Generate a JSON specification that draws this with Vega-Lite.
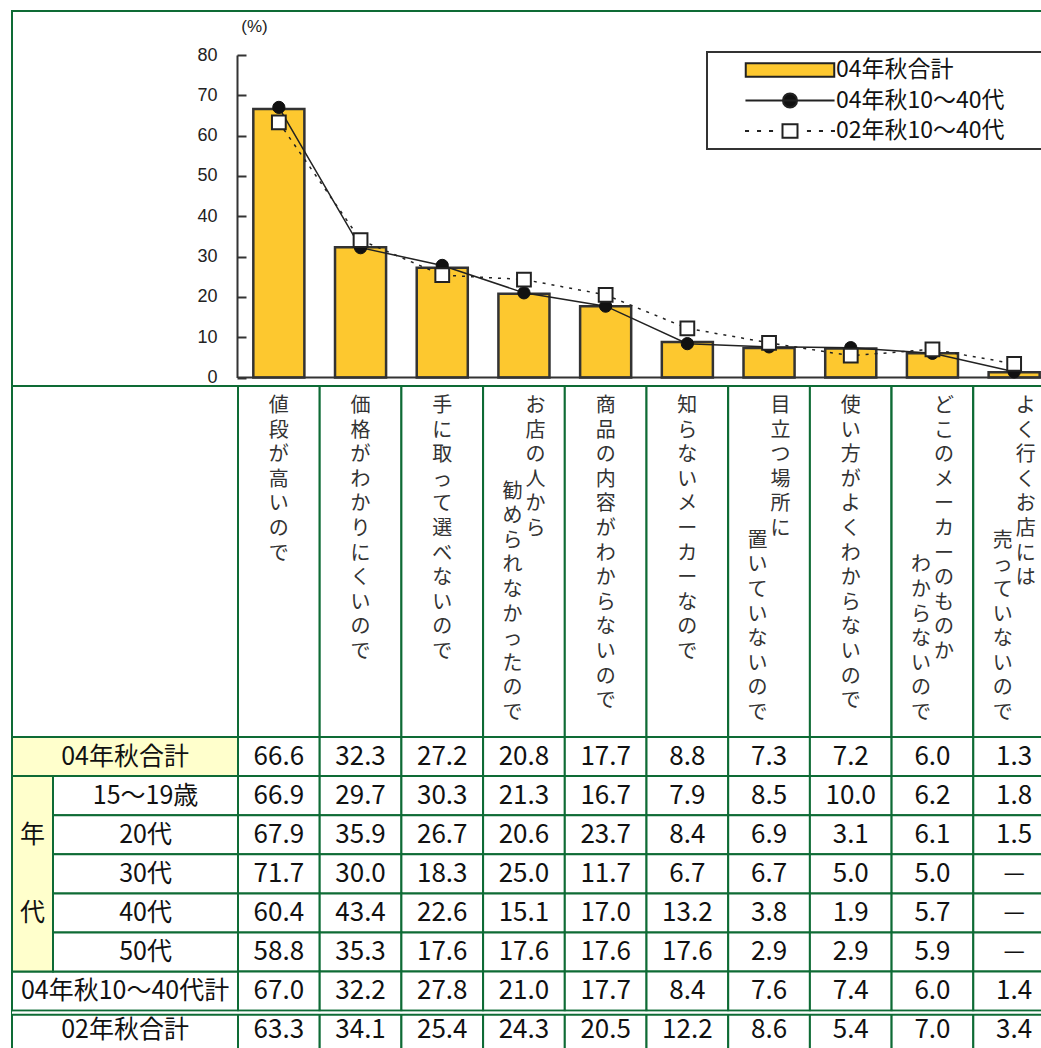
{
  "$schema": "https://vega.github.io/schema/vega-lite/v6.json",
  "padding": {"left": 10, "top": 10, "right": 0, "bottom": 0},
  "spacing": 0,
  "bounds": "flush",
  "config": {"font": "Noto Sans CJK JP", "view": {"stroke": null}, "legend": {"strokeWidth": 2}},
  "resolve": {"scale": {"x": "independent", "y": "independent", "fill": "independent"}},
  "datasets": {
    "tbl": [
      {"row": "04年秋合計", "cat": "値段が高いので", "v": 66.6},
      {"row": "04年秋合計", "cat": "価格がわかりにくいので", "v": 32.3},
      {"row": "04年秋合計", "cat": "手に取って選べないので", "v": 27.2},
      {"row": "04年秋合計", "cat": "お店の人から勧められなかったので", "v": 20.8},
      {"row": "04年秋合計", "cat": "商品の内容がわからないので", "v": 17.7},
      {"row": "04年秋合計", "cat": "知らないメーカーなので", "v": 8.8},
      {"row": "04年秋合計", "cat": "目立つ場所に置いていないので", "v": 7.3},
      {"row": "04年秋合計", "cat": "使い方がよくわからないので", "v": 7.2},
      {"row": "04年秋合計", "cat": "どこのメーカーのものかわからないので", "v": 6.0},
      {"row": "04年秋合計", "cat": "よく行くお店には売っていないので", "v": 1.3},
      {"row": "15〜19歳", "cat": "値段が高いので", "v": 66.9},
      {"row": "15〜19歳", "cat": "価格がわかりにくいので", "v": 29.7},
      {"row": "15〜19歳", "cat": "手に取って選べないので", "v": 30.3},
      {"row": "15〜19歳", "cat": "お店の人から勧められなかったので", "v": 21.3},
      {"row": "15〜19歳", "cat": "商品の内容がわからないので", "v": 16.7},
      {"row": "15〜19歳", "cat": "知らないメーカーなので", "v": 7.9},
      {"row": "15〜19歳", "cat": "目立つ場所に置いていないので", "v": 8.5},
      {"row": "15〜19歳", "cat": "使い方がよくわからないので", "v": 10.0},
      {"row": "15〜19歳", "cat": "どこのメーカーのものかわからないので", "v": 6.2},
      {"row": "15〜19歳", "cat": "よく行くお店には売っていないので", "v": 1.8},
      {"row": "20代", "cat": "値段が高いので", "v": 67.9},
      {"row": "20代", "cat": "価格がわかりにくいので", "v": 35.9},
      {"row": "20代", "cat": "手に取って選べないので", "v": 26.7},
      {"row": "20代", "cat": "お店の人から勧められなかったので", "v": 20.6},
      {"row": "20代", "cat": "商品の内容がわからないので", "v": 23.7},
      {"row": "20代", "cat": "知らないメーカーなので", "v": 8.4},
      {"row": "20代", "cat": "目立つ場所に置いていないので", "v": 6.9},
      {"row": "20代", "cat": "使い方がよくわからないので", "v": 3.1},
      {"row": "20代", "cat": "どこのメーカーのものかわからないので", "v": 6.1},
      {"row": "20代", "cat": "よく行くお店には売っていないので", "v": 1.5},
      {"row": "30代", "cat": "値段が高いので", "v": 71.7},
      {"row": "30代", "cat": "価格がわかりにくいので", "v": 30.0},
      {"row": "30代", "cat": "手に取って選べないので", "v": 18.3},
      {"row": "30代", "cat": "お店の人から勧められなかったので", "v": 25.0},
      {"row": "30代", "cat": "商品の内容がわからないので", "v": 11.7},
      {"row": "30代", "cat": "知らないメーカーなので", "v": 6.7},
      {"row": "30代", "cat": "目立つ場所に置いていないので", "v": 6.7},
      {"row": "30代", "cat": "使い方がよくわからないので", "v": 5.0},
      {"row": "30代", "cat": "どこのメーカーのものかわからないので", "v": 5.0},
      {"row": "30代", "cat": "よく行くお店には売っていないので", "v": null},
      {"row": "40代", "cat": "値段が高いので", "v": 60.4},
      {"row": "40代", "cat": "価格がわかりにくいので", "v": 43.4},
      {"row": "40代", "cat": "手に取って選べないので", "v": 22.6},
      {"row": "40代", "cat": "お店の人から勧められなかったので", "v": 15.1},
      {"row": "40代", "cat": "商品の内容がわからないので", "v": 17.0},
      {"row": "40代", "cat": "知らないメーカーなので", "v": 13.2},
      {"row": "40代", "cat": "目立つ場所に置いていないので", "v": 3.8},
      {"row": "40代", "cat": "使い方がよくわからないので", "v": 1.9},
      {"row": "40代", "cat": "どこのメーカーのものかわからないので", "v": 5.7},
      {"row": "40代", "cat": "よく行くお店には売っていないので", "v": null},
      {"row": "50代", "cat": "値段が高いので", "v": 58.8},
      {"row": "50代", "cat": "価格がわかりにくいので", "v": 35.3},
      {"row": "50代", "cat": "手に取って選べないので", "v": 17.6},
      {"row": "50代", "cat": "お店の人から勧められなかったので", "v": 17.6},
      {"row": "50代", "cat": "商品の内容がわからないので", "v": 17.6},
      {"row": "50代", "cat": "知らないメーカーなので", "v": 17.6},
      {"row": "50代", "cat": "目立つ場所に置いていないので", "v": 2.9},
      {"row": "50代", "cat": "使い方がよくわからないので", "v": 2.9},
      {"row": "50代", "cat": "どこのメーカーのものかわからないので", "v": 5.9},
      {"row": "50代", "cat": "よく行くお店には売っていないので", "v": null},
      {"row": "04年秋10〜40代計", "cat": "値段が高いので", "v": 67.0},
      {"row": "04年秋10〜40代計", "cat": "価格がわかりにくいので", "v": 32.2},
      {"row": "04年秋10〜40代計", "cat": "手に取って選べないので", "v": 27.8},
      {"row": "04年秋10〜40代計", "cat": "お店の人から勧められなかったので", "v": 21.0},
      {"row": "04年秋10〜40代計", "cat": "商品の内容がわからないので", "v": 17.7},
      {"row": "04年秋10〜40代計", "cat": "知らないメーカーなので", "v": 8.4},
      {"row": "04年秋10〜40代計", "cat": "目立つ場所に置いていないので", "v": 7.6},
      {"row": "04年秋10〜40代計", "cat": "使い方がよくわからないので", "v": 7.4},
      {"row": "04年秋10〜40代計", "cat": "どこのメーカーのものかわからないので", "v": 6.0},
      {"row": "04年秋10〜40代計", "cat": "よく行くお店には売っていないので", "v": 1.4},
      {"row": "02年秋合計", "cat": "値段が高いので", "v": 63.3},
      {"row": "02年秋合計", "cat": "価格がわかりにくいので", "v": 34.1},
      {"row": "02年秋合計", "cat": "手に取って選べないので", "v": 25.4},
      {"row": "02年秋合計", "cat": "お店の人から勧められなかったので", "v": 24.3},
      {"row": "02年秋合計", "cat": "商品の内容がわからないので", "v": 20.5},
      {"row": "02年秋合計", "cat": "知らないメーカーなので", "v": 12.2},
      {"row": "02年秋合計", "cat": "目立つ場所に置いていないので", "v": 8.6},
      {"row": "02年秋合計", "cat": "使い方がよくわからないので", "v": 5.4},
      {"row": "02年秋合計", "cat": "どこのメーカーのものかわからないので", "v": 7.0},
      {"row": "02年秋合計", "cat": "よく行くお店には売っていないので", "v": 3.4}
    ],
    "hdr": [
      {"cat": "値段が高いので", "n": 1, "line": 1, "len": 7, "text": "値\n段\nが\n高\nい\nの\nで"},
      {"cat": "価格がわかりにくいので", "n": 1, "line": 1, "len": 11, "text": "価\n格\nが\nわ\nか\nり\nに\nく\nい\nの\nで"},
      {"cat": "手に取って選べないので", "n": 1, "line": 1, "len": 11, "text": "手\nに\n取\nっ\nて\n選\nべ\nな\nい\nの\nで"},
      {"cat": "お店の人から勧められなかったので", "n": 2, "line": 1, "len": 6, "text": "お\n店\nの\n人\nか\nら"},
      {"cat": "お店の人から勧められなかったので", "n": 2, "line": 2, "len": 10, "text": "勧\nめ\nら\nれ\nな\nか\nっ\nた\nの\nで"},
      {"cat": "商品の内容がわからないので", "n": 1, "line": 1, "len": 13, "text": "商\n品\nの\n内\n容\nが\nわ\nか\nら\nな\nい\nの\nで"},
      {"cat": "知らないメーカーなので", "n": 1, "line": 1, "len": 11, "text": "知\nら\nな\nい\nメ\nー\nカ\nー\nな\nの\nで"},
      {"cat": "目立つ場所に置いていないので", "n": 2, "line": 1, "len": 6, "text": "目\n立\nつ\n場\n所\nに"},
      {"cat": "目立つ場所に置いていないので", "n": 2, "line": 2, "len": 8, "text": "置\nい\nて\nい\nな\nい\nの\nで"},
      {"cat": "使い方がよくわからないので", "n": 1, "line": 1, "len": 13, "text": "使\nい\n方\nが\nよ\nく\nわ\nか\nら\nな\nい\nの\nで"},
      {"cat": "どこのメーカーのものかわからないので", "n": 2, "line": 1, "len": 11, "text": "ど\nこ\nの\nメ\nー\nカ\nー\nの\nも\nの\nか"},
      {"cat": "どこのメーカーのものかわからないので", "n": 2, "line": 2, "len": 7, "text": "わ\nか\nら\nな\nい\nの\nで"},
      {"cat": "よく行くお店には売っていないので", "n": 2, "line": 1, "len": 8, "text": "よ\nく\n行\nく\nお\n店\nに\nは"},
      {"cat": "よく行くお店には売っていないので", "n": 2, "line": 2, "len": 8, "text": "売\nっ\nて\nい\nな\nい\nの\nで"}
    ],
    "lab": [
      {"row": "04年秋合計", "kind": "合計"},
      {"row": "15〜19歳", "kind": "年代別"},
      {"row": "20代", "kind": "年代別"},
      {"row": "30代", "kind": "年代別"},
      {"row": "40代", "kind": "年代別"},
      {"row": "50代", "kind": "年代別"},
      {"row": "04年秋10〜40代計", "kind": "合計"},
      {"row": "02年秋合計", "kind": "合計"}
    ],
    "grp": [
      {"grp": "年代", "r0": "15〜19歳", "r1": "04年秋10〜40代計", "first": "20代", "text": "年\n代"}
    ]
  },
  "vconcat": [
    {
      "width": 1031,
      "height": 375,
      "view": {"stroke": "#0e6b35", "strokeWidth": 2},
      "data": {"name": "tbl"},
      "encoding": {
        "x": {"field": "cat", "type": "nominal", "sort": null, "axis": null,
              "scale": {"type": "band", "range": [226, 1043], "paddingInner": 0, "paddingOuter": 0}}
      },
      "layer": [
        {
          "transform": [{"filter": "datum.row == '04年秋合計'"}],
          "mark": {"type": "bar", "width": {"band": 0.625}, "stroke": "#333333", "strokeWidth": 2.5, "clip": true},
          "encoding": {
            "y": {"field": "v", "type": "quantitative",
                  "scale": {"domain": [0, 80], "range": [366.5, 44], "nice": false, "zero": true},
                  "axis": {"orient": "left", "offset": -225, "values": [0, 10, 20, 30, 40, 50, 60, 70, 80],
                           "title": "(%)", "titleAngle": 0, "titleX": 17, "titleY": 15, "titleAlign": "center",
                           "titleBaseline": "middle", "titleFont": "Liberation Sans", "titleFontSize": 17,
                           "titleFontWeight": "normal", "titleColor": "#222222",
                           "labelFont": "Liberation Sans", "labelFontSize": 18, "labelColor": "#222222",
                           "labelPadding": 29, "labelFlush": false, "labelOverlap": false,
                           "tickSize": -9, "tickWidth": 2, "tickColor": "#333333",
                           "domainColor": "#333333", "domainWidth": 2, "grid": false}},
            "fill": {"field": "row", "type": "nominal",
                     "scale": {"domain": ["04年秋合計", "04年秋10〜40代計", "02年秋合計"], "range": ["#FDC82F", "#111111", "#FFFFFF"]},
                     "legend": {
                       "title": null, "orient": "none", "legendX": 695, "legendY": 41,
                       "padding": 2, "rowPadding": 2.5, "symbolSize": 900,
                       "symbolType": {"expr": "datum.value == '04年秋合計' ? 'M-2.95,-0.45H2.95V0.45H-2.95ZM17.1,0' : datum.value == '04年秋10〜40代計' ? 'M-2.97,0H2.97M0.47,0A0.47,0.47,0,1,1,-0.47,0A0.47,0.47,0,1,1,0.47,0ZM17.1,0' : 'M-3,0H-2.73M-2.2,0H-1.93M-1.4,0H-1.13M1.13,0H1.4M1.93,0H2.2M2.73,0H3M-0.5,-0.45H0.5V0.45H-0.5ZM17.1,0.8'"},
                       "symbolStrokeColor": "#222222", "symbolStrokeWidth": 2, "symbolOpacity": 1,
                       "symbolOffset": 65, "labelOffset": 30,
                       "labelFont": "Noto Sans CJK JP", "labelFontSize": 23, "labelColor": "#111111", "labelLimit": 500,
                       "labelExpr": "datum.value == '04年秋10〜40代計' ? '04年秋10〜40代' : datum.value == '02年秋合計' ? '02年秋10〜40代' : datum.label",
                       "fillColor": "#FFFFFF", "strokeColor": "#333333"
                     }}
          }
        },
        {
          "transform": [{"filter": "datum.row == '04年秋10〜40代計'"}],
          "mark": {"type": "line", "stroke": "#222222", "strokeWidth": 1.5, "clip": true},
          "encoding": {"y": {"field": "v", "type": "quantitative"}}
        },
        {
          "transform": [{"filter": "datum.row == '02年秋合計'"}],
          "mark": {"type": "line", "stroke": "#222222", "strokeWidth": 1.5, "strokeDash": [3, 6], "clip": true},
          "encoding": {"y": {"field": "v", "type": "quantitative"}}
        },
        {
          "data": {"values": [{}]},
          "mark": {"type": "rule", "stroke": "#333333", "strokeWidth": 2, "clip": true},
          "encoding": {
            "x": {"datum": "値段が高いので", "bandPosition": 0},
            "x2": {"value": "width"},
            "y": {"datum": 0}
          }
        },
        {
          "transform": [{"filter": "datum.row == '04年秋10〜40代計'"}],
          "mark": {"type": "point", "shape": "circle", "filled": true, "size": 150, "fill": "#111111", "stroke": "#111111", "strokeWidth": 1, "opacity": 1, "clip": true},
          "encoding": {"y": {"field": "v", "type": "quantitative"}}
        },
        {
          "transform": [{"filter": "datum.row == '02年秋合計'"}],
          "mark": {"type": "point", "shape": "square", "filled": true, "size": 190, "fill": "#FFFFFF", "stroke": "#222222", "strokeWidth": 2, "opacity": 1, "clip": true},
          "encoding": {"y": {"field": "v", "type": "quantitative"}}
        }
      ]
    },
    {
      "width": 1031,
      "height": 351,
      "view": {"stroke": "#0e6b35", "strokeWidth": 2},
      "data": {"name": "hdr"},
      "resolve": {"scale": {"y": "independent"}},
      "encoding": {
        "x": {"field": "cat", "type": "nominal", "sort": null, "axis": null,
              "scale": {"type": "band", "range": [226, 1043], "paddingInner": 0, "paddingOuter": 0}}
      },
      "layer": [
        {
          "mark": {"type": "rect", "fill": "#FFFFFF", "stroke": "#0e6b35", "strokeWidth": 2, "clip": true}
        },
        {
          "transform": [{"filter": "datum.n == 1"}],
          "mark": {"type": "text", "baseline": "top", "lineBreak": "\n", "lineHeight": 24.6, "fontSize": 20, "fill": "#333333", "clip": true},
          "encoding": {
            "y": {"field": "line", "type": "ordinal", "axis": null, "scale": {"type": "point", "domain": [1, 2], "range": [10, 340], "padding": 0}},
            "text": {"field": "text"}
          }
        },
        {
          "transform": [{"filter": "datum.n == 2 && datum.line == 1"}],
          "mark": {"type": "text", "baseline": "top", "lineBreak": "\n", "lineHeight": 24.6, "fontSize": 20, "fill": "#333333", "dx": 11.5, "clip": true},
          "encoding": {
            "y": {"field": "line", "type": "ordinal", "axis": null, "scale": {"type": "point", "domain": [1, 2], "range": [10, 340], "padding": 0}},
            "text": {"field": "text"}
          }
        },
        {
          "transform": [{"filter": "datum.line == 2"}],
          "mark": {"type": "text", "baseline": "top", "lineBreak": "\n", "lineHeight": 24.6, "fontSize": 20, "fill": "#333333", "dx": -11.5, "clip": true},
          "encoding": {
            "y": {"field": "len", "type": "quantitative", "axis": null, "scale": {"domain": [0, 14], "range": [341.6, -2.8], "nice": false, "zero": false}},
            "text": {"field": "text"}
          }
        }
      ]
    },
    {
      "width": 1031,
      "height": 312,
      "resolve": {"scale": {"x": "independent"}},
      "layer": [
        {
          "data": {"name": "tbl"},
          "encoding": {
            "x": {"field": "cat", "type": "nominal", "sort": null, "axis": null,
                  "scale": {"type": "band", "range": [226, 1043], "paddingInner": 0, "paddingOuter": 0}},
            "y": {"field": "row", "type": "nominal", "sort": null, "axis": null,
                  "scale": {"type": "band", "domain": ["04年秋合計", "15〜19歳", "20代", "30代", "40代", "50代", "04年秋10〜40代計", "02年秋合計"], "range": [0, 312.8], "paddingInner": 0, "paddingOuter": 0}}
          },
          "layer": [
            {"mark": {"type": "rect", "fill": "#FFFFFF", "stroke": "#0e6b35", "strokeWidth": 2, "clip": true}},
            {
              "transform": [{"filter": "datum.v != null"}],
              "mark": {"type": "text", "fontSize": 26, "fill": "#111111", "clip": true},
              "encoding": {"text": {"field": "v", "type": "quantitative", "format": ".1f"}}
            },
            {
              "transform": [{"filter": "datum.v == null"}],
              "mark": {"type": "text", "fontSize": 24, "fill": "#111111", "text": "—", "clip": true}
            }
          ]
        },
        {
          "data": {"name": "lab"},
          "transform": [{"filter": "datum.kind == '合計'"}],
          "encoding": {
            "x": {"field": "kind", "type": "nominal", "axis": null,
                  "scale": {"type": "band", "range": [0, 226], "paddingInner": 0, "paddingOuter": 0}},
            "y": {"field": "row", "type": "nominal", "sort": null, "axis": null}
          },
          "layer": [
            {
              "mark": {"type": "rect", "stroke": "#0e6b35", "strokeWidth": 2},
              "encoding": {"fill": {"condition": {"test": "datum.row == '04年秋合計'", "value": "#FFFFCC"}, "value": "#FFFFFF"}}
            },
            {
              "mark": {"type": "text", "fontSize": 25, "fill": "#111111"},
              "encoding": {"text": {"field": "row"}}
            }
          ]
        },
        {
          "data": {"name": "lab"},
          "transform": [{"filter": "datum.kind == '年代別'"}],
          "encoding": {
            "x": {"field": "kind", "type": "nominal", "axis": null,
                  "scale": {"type": "band", "range": [41, 226], "paddingInner": 0, "paddingOuter": 0}},
            "y": {"field": "row", "type": "nominal", "sort": null, "axis": null}
          },
          "layer": [
            {"mark": {"type": "rect", "fill": "#FFFFFF", "stroke": "#0e6b35", "strokeWidth": 2}},
            {
              "mark": {"type": "text", "fontSize": 25, "fill": "#111111"},
              "encoding": {"text": {"field": "row"}}
            }
          ]
        },
        {
          "data": {"name": "grp"},
          "encoding": {
            "x": {"field": "grp", "type": "nominal", "axis": null,
                  "scale": {"type": "band", "range": [0, 41], "paddingInner": 0, "paddingOuter": 0}}
          },
          "layer": [
            {
              "mark": {"type": "rect", "fill": "#FFFFCC", "stroke": "#0e6b35", "strokeWidth": 2},
              "encoding": {
                "y": {"field": "r0", "type": "nominal", "sort": null, "axis": null, "bandPosition": 0},
                "y2": {"field": "r1", "bandPosition": 0}
              }
            },
            {
              "mark": {"type": "text", "fontSize": 25, "fill": "#111111", "lineBreak": "\n", "lineHeight": 78},
              "encoding": {
                "y": {"field": "first", "type": "nominal", "sort": null, "axis": null},
                "text": {"field": "text"}
              }
            }
          ]
        },
        {
          "data": {"values": [{}]},
          "layer": [
            {
              "mark": {"type": "rule", "stroke": "#FFFFFF", "strokeWidth": 2.5, "yOffset": 2},
              "encoding": {"y": {"datum": "02年秋合計", "bandPosition": 0}}
            },
            {
              "mark": {"type": "rule", "stroke": "#0e6b35", "strokeWidth": 2, "yOffset": 4},
              "encoding": {"y": {"datum": "02年秋合計", "bandPosition": 0}}
            }
          ]
        }
      ]
    }
  ]
}
